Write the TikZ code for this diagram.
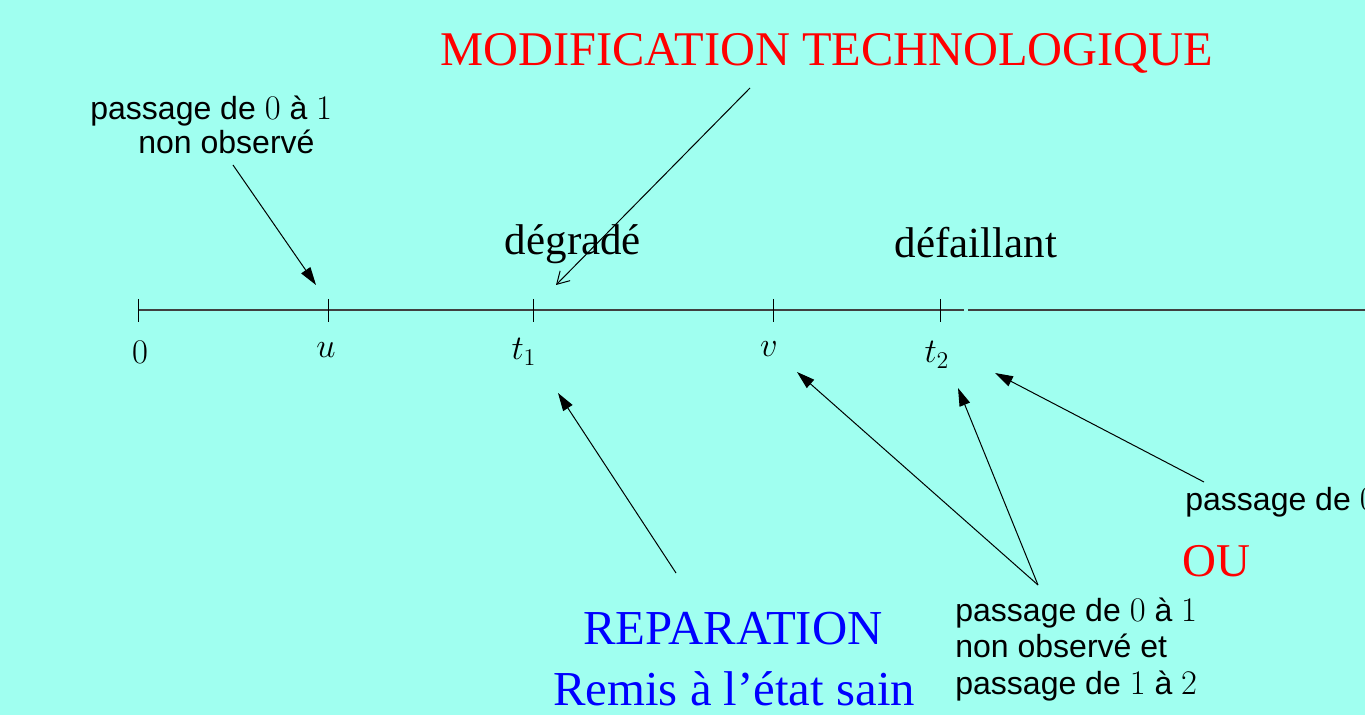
\documentclass[tikz,border=0pt]{standalone}
\usepackage[no-math]{fontspec}
\setmainfont{Liberation Serif}
\newfontfamily\sansf{Liberation Sans}
\usetikzlibrary{arrows.meta}
\definecolor{bg}{RGB}{160,255,240}
\definecolor{myred}{RGB}{255,0,0}
\definecolor{myblue}{RGB}{0,0,255}
\begin{document}
\begin{tikzpicture}[x=0.5pt,y=-0.5pt,
  axisline/.style={line width=0.6pt, black!75},
  tickline/.style={line width=0.5pt, black},
  arr/.style={-{Triangle[length=9pt,width=5.5pt]}, line width=0.5pt},
  oarr/.style={-{Straight Barb[length=6pt,width=7pt]}, line width=0.5pt},
  slab/.style={font=\sansf\fontsize{16}{18}\selectfont, inner sep=0pt},
  mlab/.style={font=\fontsize{17}{20}\selectfont, inner sep=0pt, anchor=base},
  big/.style={font=\fontsize{21.5}{24}\selectfont, inner sep=0pt, anchor=base},
  redt/.style={font=\fontsize{24.2}{28}\selectfont, inner sep=0pt, anchor=base, text=myred},
  bluet/.style={font=\fontsize{24.4}{28}\selectfont, inner sep=0pt, anchor=base, text=myblue}]
\useasboundingbox (0,0) rectangle (1365,715);
\clip (0,0) rectangle (1365,715);
\fill[bg] (0,0) rectangle (1365,715);

% axis
\coordinate (ax0) at (138,310);
\coordinate (axg1) at (964,310);
\coordinate (axg2) at (968,310);
\coordinate (axe) at (1365,310);
\draw[axisline] (ax0) -- (axg1);
\draw[axisline] (axg2) -- (axe);

% ticks
\foreach \n/\x in {k0/138, ku/328, kt1/533, kv/773, kt2/940}{
  \coordinate (\n a) at (\x,299);
  \coordinate (\n b) at (\x,322);
  \draw[tickline] (\n a) -- (\n b);
}

% axis labels
\node[mlab] (l0) at (140,364) {$0$};
\node[mlab] (lu) at (326,358) {$u$};
\node[mlab] (lt1) at (524,360) {$t_1$};
\node[mlab] (lv) at (769,357) {$v$};
\node[mlab] (lt2) at (937,363) {$t_2$};

% titles
\node[redt] (modif) at (827,66) {MODIFICATION TECHNOLOGIQUE};
\node[big] (degr) at (573,255) {dégradé};
\node[big] (defa) at (976,258) {défaillant};
\node[bluet] (repa) at (733,644) {REPARATION};
\node[bluet] (remis) at (734,705) {Remis à l’état sain};
\node[redt, font=\fontsize{23.5}{27}\selectfont, anchor=base west] (ou) at (1182,576) {OU};

% sans labels
\node[slab, anchor=base west] (tl1) at (90,120) {passage de $0$ à $1$};
\node[slab, anchor=base west] (tl2) at (138,154) {non observé};
\node[slab, anchor=base west] (rl1) at (1185,511) {passage de $0$};
\node[slab, anchor=base west] (bl1) at (955,621) {passage de $0$ à $1$};
\node[slab, anchor=base west] (bl2) at (955,657) {non observé et};
\node[slab, anchor=base west] (bl3) at (955,694) {passage de $1$ à $2$};

% arrows
\coordinate (a1s) at (233,165);
\coordinate (a1e) at (316,285);
\draw[arr] (a1s) -- (a1e);
\coordinate (a2s) at (750,88);
\coordinate (a2e) at (556,285);
\draw[oarr] (a2s) -- (a2e);
\coordinate (a3s) at (676,573);
\coordinate (a3e) at (558,393);
\draw[arr] (a3s) -- (a3e);
\coordinate (a4s) at (1038,585);
\coordinate (a4e) at (797,372);
\draw[arr] (a4s) -- (a4e);
\coordinate (a5e) at (958,388);
\draw[arr] (a4s) -- (a5e);
\coordinate (a6s) at (1204,482);
\coordinate (a6e) at (995,373);
\draw[arr] (a6s) -- (a6e);
\end{tikzpicture}
\end{document}
